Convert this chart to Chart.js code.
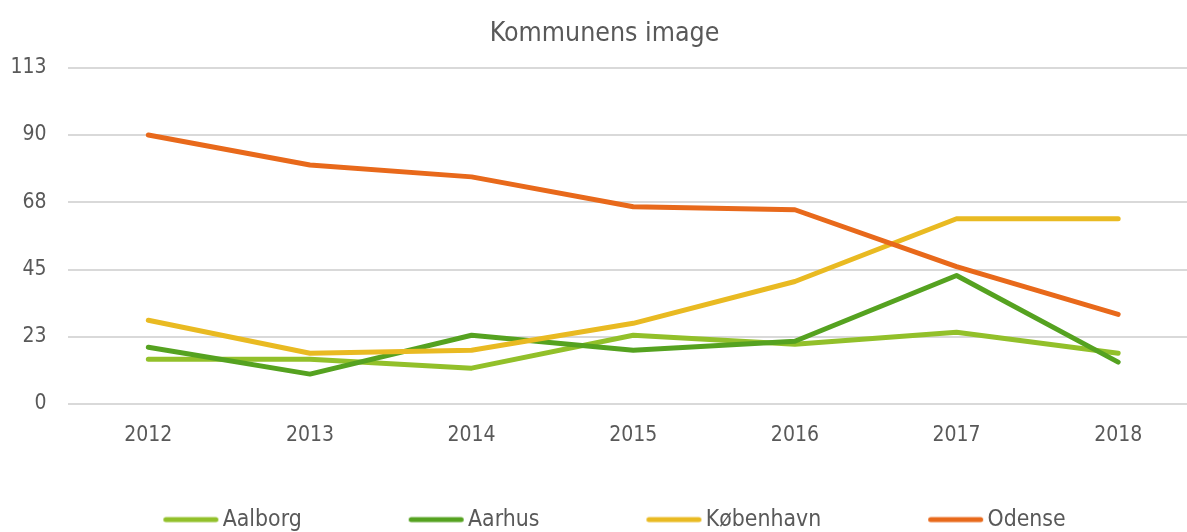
<!DOCTYPE html>
<html><head><meta charset="utf-8">
<script src="https://cdn.jsdelivr.net/npm/chart.js@4"></script>
<style>
html,body{margin:0;padding:0;overflow:hidden;background:#fff;width:1187px;height:532px}
#wrap{position:absolute;left:0;top:0;width:1216px;height:541px}
</style></head>
<body><div id="wrap"><canvas id="c" width="1216" height="541"></canvas></div>
<script>
const chartTitle = 'Kommunens image';
const years = ['2012', '2013', '2014', '2015', '2016', '2017', '2018'];
const seriesNames = ['Aalborg', 'Aarhus', 'København', 'Odense'];
const aalborg = [15, 15, 12, 23, 20, 24, 17];
const aarhus = [19, 10, 23, 18, 21, 43, 14];
const kobenhavn = [28, 17, 18, 27, 41, 62, 62];
const odense = [90, 80, 76, 66, 65, 46, 30];
const yTickValues = [0, 22.5, 45, 67.5, 90, 112.5];
const yTickLabels = ['0', '23', '45', '68', '90', '113'];

const colors = ['#92C02A', '#55A220', '#E9BA22', '#E8691B'];
const FONT = "'DejaVu Sans Condensed', 'DejaVu Sans', sans-serif";
const TXT = '#595959';

// legend swatch: short rounded line reaching close to the label text
const LEG_FONT = 22.8;
const SW = 68;
const LEG_PAD = 87;
function makeMarker(color) {
  const c = document.createElement('canvas');
  c.width = SW + 16; c.height = 8;
  const g = c.getContext('2d');
  g.strokeStyle = color; g.lineWidth = 5; g.lineCap = 'round';
  g.beginPath(); g.moveTo(SW - 37.5, 4); g.lineTo(SW + 12.5, 4); g.stroke();
  return c;
}
const markers = colors.map(makeMarker);

const seriesData = [aalborg, aarhus, kobenhavn, odense];
const datasets = seriesNames.map((name, i) => ({
  label: name,
  data: seriesData[i],
  borderColor: colors[i],
  backgroundColor: colors[i],
  borderWidth: 5,
  borderCapStyle: 'round',
  borderJoinStyle: 'round',
  pointRadius: 0,
  pointHoverRadius: 0,
  fill: false,
  tension: 0,
  order: seriesNames.length - i
}));

new Chart(document.getElementById('c'), {
  type: 'line',
  data: { labels: years, datasets },
  options: {
    responsive: false,
    animation: false,
    devicePixelRatio: 1,
    layout: { padding: { left: 10, right: 17, top: 0, bottom: 0 } },
    plugins: {
      title: {
        display: true, text: chartTitle, color: TXT,
        font: { family: FONT, size: 26.5, weight: 'normal', lineHeight: 1.2 },
        padding: { top: 18, bottom: 18 }
      },
      legend: {
        position: 'bottom',
        labels: {
          color: TXT,
          font: { family: FONT, size: LEG_FONT },
          usePointStyle: true,
          pointStyleWidth: SW,
          padding: LEG_PAD,
          sort: (a, b) => a.datasetIndex - b.datasetIndex,
          generateLabels: (chart) => {
            const items = Chart.defaults.plugins.legend.labels.generateLabels(chart);
            items.forEach(it => { it.pointStyle = markers[it.datasetIndex]; });
            return items;
          }
        }
      },
      tooltip: { enabled: false }
    },
    scales: {
      x: {
        offset: true,
        grid: { display: false, drawTicks: false },
        border: { display: false },
        ticks: { color: TXT, font: { family: FONT, size: 21 }, mirror: true, padding: -44.2, maxRotation: 0 },
        afterFit: (s) => { s.height = 541 - 404 - (LEG_FONT + LEG_PAD + 10); }
      },
      y: {
        min: 0, max: 112.5,
        grid: { color: '#D9D9D9', lineWidth: 2, drawTicks: false },
        border: { display: false },
        ticks: {
          stepSize: 22.5, color: TXT, font: { family: FONT, size: 21 }, padding: 21,
          callback: (v) => {
            const i = yTickValues.findIndex(t => Math.abs(t - v) < 1e-6);
            return i >= 0 ? yTickLabels[i] : '';
          }
        },
        afterFit: (s) => { s.width = 57.5; }
      }
    }
  }
});
</script>
</body></html>
